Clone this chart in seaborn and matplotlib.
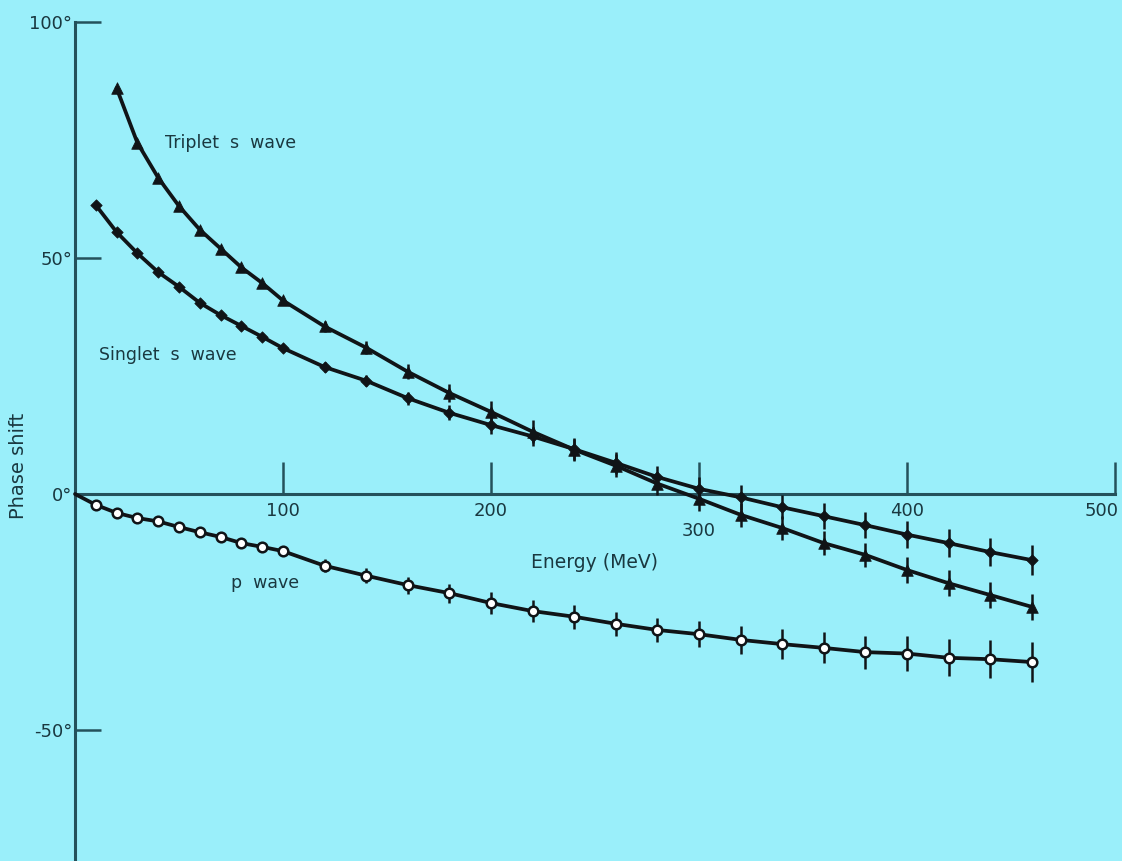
import numpy as np
import pandas as pd
import matplotlib
matplotlib.use("Agg")
import matplotlib.pyplot as plt
from matplotlib.transforms import ScaledTranslation
import seaborn as sns

# Nucleon-nucleon phase shifts versus laboratory energy
energy_triplet = [20, 30, 40, 50, 60, 70, 80, 90, 100,
                  120, 140, 160, 180, 200, 220, 240, 260, 280,
                  300, 320, 340, 360, 380, 400, 420, 440, 460]
triplet_s = [86.0, 74.4, 67.0, 61.0, 56.0, 52.0, 48.0, 44.7, 41.0,
             35.5, 31.0, 25.9, 21.4, 17.4, 13.2, 9.4, 6.0, 2.2,
             -1.0, -4.4, -7.2, -10.4, -12.9, -16.1, -18.9, -21.4, -23.9]
triplet_err = [0, 0, 0, 0, 0, 0, 0, 0, 0,
               1.2, 1.4, 1.6, 2.0, 2.2, 2.4, 2.4, 2.4, 2.5,
               2.5, 2.5, 2.6, 2.6, 2.6, 2.7, 2.7, 2.7, 2.8]

energy_singlet = [10, 20, 30, 40, 50, 60, 70, 80, 90, 100,
                  120, 140, 160, 180, 200, 220, 240, 260, 280,
                  300, 320, 340, 360, 380, 400, 420, 440, 460]
singlet_s = [61.2, 55.5, 51.0, 47.0, 43.9, 40.5, 37.9, 35.6, 33.3, 30.9,
             26.9, 24.0, 20.3, 17.2, 14.6, 12.2, 9.5, 6.6, 3.6,
             1.1, -0.7, -2.8, -4.7, -6.6, -8.6, -10.4, -12.3, -14.0]
singlet_err = [0, 0, 0, 0, 0, 0, 0, 0, 0, 0,
               1.0, 1.2, 1.4, 1.6, 1.8, 2.0, 2.2, 2.3, 2.4,
               2.5, 2.6, 2.6, 2.7, 2.8, 2.8, 2.9, 3.0, 3.1]

energy_p = [10, 20, 30, 40, 50, 60, 70, 80, 90, 100,
            120, 140, 160, 180, 200, 220, 240, 260, 280,
            300, 320, 340, 360, 380, 400, 420, 440, 460]
p_wave = [-2.3, -4.0, -5.1, -5.8, -7.0, -8.1, -9.1, -10.4, -11.2, -12.1,
          -15.2, -17.3, -19.3, -21.0, -23.1, -24.8, -26.0, -27.5, -28.8,
          -29.7, -30.9, -31.8, -32.6, -33.5, -33.8, -34.7, -35.0, -35.6]
p_err = [0, 0, 0, 0, 0, 0, 0, 0, 0, 0,
         1.4, 1.6, 1.8, 2.0, 2.3, 2.4, 2.5, 2.6, 2.6,
         2.7, 2.9, 3.1, 3.3, 3.5, 3.7, 3.9, 4.0, 4.2]

x_ticks = [100, 200, 300, 400, 500]
x_tick_labels = ["100", "200", "300", "400", "500"]
y_ticks = [100, 50, 0, -50]
y_tick_labels = ["100°", "50°", "0°", "-50°"]

BG = "#9AEFFA"
INK = "#101417"
AXIS = "#24515b"
TEXT = "#1a3840"

sns.set_style("white", {"axes.facecolor": BG, "figure.facecolor": BG})
plt.rcParams["font.family"] = ["DejaVu Sans"]

fig = plt.figure(figsize=(11.22, 8.61), dpi=100)
ax = fig.add_axes([0, 0, 1, 1])

df_t = pd.DataFrame({"E": energy_triplet, "phase": triplet_s, "err": triplet_err})
df_s = pd.DataFrame({"E": energy_singlet, "phase": singlet_s, "err": singlet_err})
df_p = pd.DataFrame({"E": energy_p, "phase": p_wave, "err": p_err})
# the p-wave curve starts at the origin
df_p_line = pd.concat([pd.DataFrame({"E": [0], "phase": [0.0], "err": [0]}), df_p],
                      ignore_index=True)

lw = 2.7
for d in (df_t, df_s, df_p_line):
    sns.lineplot(data=d, x="E", y="phase", ax=ax, color=INK, lw=lw,
                 sort=False, estimator=None, zorder=3)

# error bars
for d in (df_t, df_s, df_p):
    m = d["err"] > 0
    ax.errorbar(d.loc[m, "E"], d.loc[m, "phase"], yerr=d.loc[m, "err"],
                fmt="none", ecolor=INK, elinewidth=1.8, capsize=0, zorder=3)

sns.scatterplot(data=df_t, x="E", y="phase", ax=ax, marker="^", s=70,
                color=INK, edgecolor=INK, linewidth=0.5, zorder=4)
sns.scatterplot(data=df_s, x="E", y="phase", ax=ax, marker="D", s=34,
                color=INK, edgecolor=INK, linewidth=0.5, zorder=4)
sns.scatterplot(data=df_p, x="E", y="phase", ax=ax, marker="o", s=48,
                color="white", edgecolor=INK, linewidth=1.8, zorder=4)

ax.set_xlim(-36.06, 503.4)
ax.set_ylim(-77.75, 104.66)

for side in ("top", "right"):
    ax.spines[side].set_visible(False)
ax.spines["left"].set_position(("data", 0))
ax.spines["bottom"].set_position(("data", 0))
ax.spines["left"].set_bounds(-78, 100)
ax.spines["bottom"].set_bounds(0, 500)
for side in ("left", "bottom"):
    ax.spines[side].set_color(AXIS)
    ax.spines[side].set_linewidth(2.2)

ax.set_xticks(x_ticks, x_tick_labels)
ax.set_yticks(y_ticks, y_tick_labels)
ax.tick_params(axis="x", bottom=True, direction="in", length=23, width=1.8, pad=6,
               labelsize=13, colors=AXIS, labelcolor=TEXT)
ax.tick_params(axis="y", left=True, direction="in", length=19, width=1.8, pad=2,
               labelsize=13, colors=AXIS, labelcolor=TEXT)
ax.set_xlabel("")
ax.set_ylabel("")

# nudge the 300 label below the crossing curves and keep 500 inside the frame
for lab in ax.get_xticklabels():
    if lab.get_text() == "300":
        lab.set_transform(lab.get_transform() + ScaledTranslation(0, -20 / 100, fig.dpi_scale_trans))
    if lab.get_text() == "500":
        lab.set_transform(lab.get_transform() + ScaledTranslation(-13 / 100, 0, fig.dpi_scale_trans))

ax.text(75, 74.4, "Triplet  s  wave", fontsize=12.5, color=TEXT, ha="center", va="center")
ax.text(44.7, 29.4, "Singlet  s  wave", fontsize=12.5, color=TEXT, ha="center", va="center")
ax.text(91.3, -18.9, "p  wave", fontsize=12.5, color=TEXT, ha="center", va="center")
ax.text(250, -14.6, "Energy (MeV)", fontsize=13.5, color=TEXT, ha="center", va="center")
fig.text(19 / 1122, 1 - 466 / 861, "Phase shift", rotation=90, fontsize=14,
         color=TEXT, ha="center", va="center")

fig.savefig("out.png", dpi=100, facecolor=BG)
